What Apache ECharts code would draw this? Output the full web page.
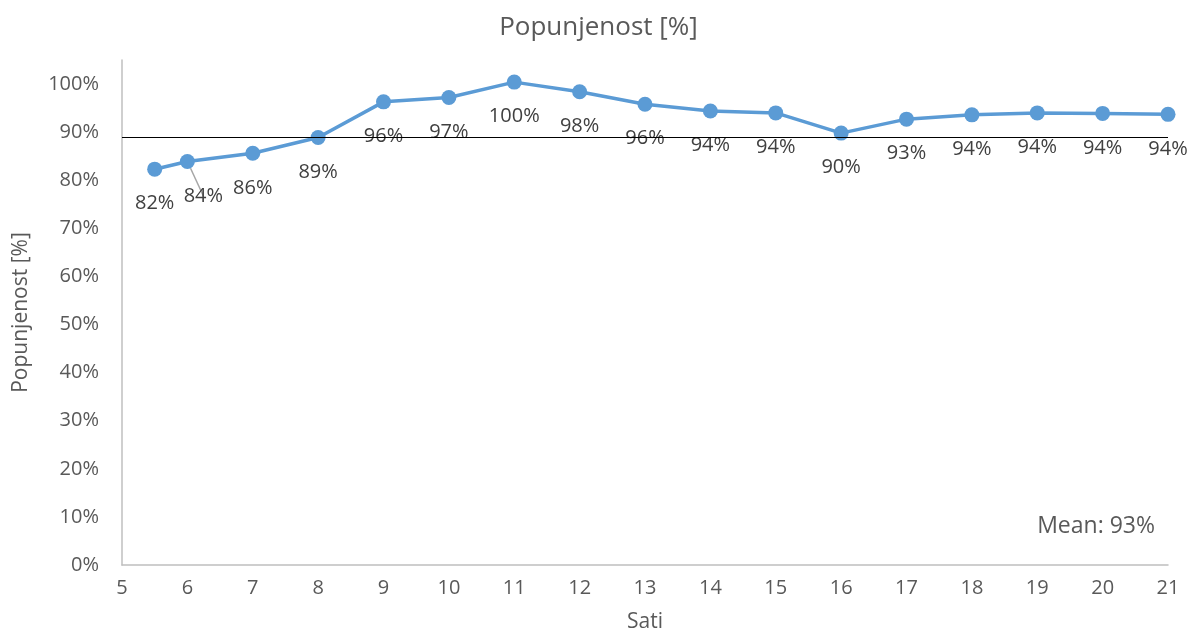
<!DOCTYPE html>
<html lang="hr">
<head>
<meta charset="UTF-8">
<title>Popunjenost</title>
<script src="https://cdn.jsdelivr.net/npm/echarts@6/dist/echarts.min.js"></script>
<style>
  html, body { margin: 0; padding: 0; background: #fff; }
  #main { width: 1197px; height: 635px; }
</style>
</head>
<body>
<div id="main"></div>
<script>
// sati (x) i popunjenost (y)
const hours = [5.5, 6, 7, 8, 9, 10, 11, 12, 13, 14, 15, 16, 17, 18, 19, 20, 21];
const occupancy = [0.823, 0.839, 0.856, 0.889, 0.963, 0.972, 1.004, 0.984, 0.958, 0.944, 0.940, 0.898, 0.927, 0.936, 0.940, 0.939, 0.937];
const meanLine = 0.885;
const meanText = 'Mean: 93%';

const font = '"Open Sans", "Noto Sans", sans-serif';

const chart = echarts.init(document.getElementById('main'));

const data = hours.map((h, i) => {
  const d = { value: [h, occupancy[i]] };
  if (i === 1) {
    d.label = { offset: [16, 0] };
    d.labelLine = { show: true, lineStyle: { color: '#a6a6a6', width: 1.5 } };
  }
  return d;
});

chart.setOption({
  animation: false,
  title: {
    text: 'Popunjenost [%]',
    left: 'center',
    top: 10,
    textStyle: { fontFamily: font, fontSize: 26, fontWeight: 'normal', color: '#595959' }
  },
  grid: { left: 122, right: 29, top: 60, bottom: 70, containLabel: false, outerBoundsMode: 'none' },
  xAxis: {
    type: 'value',
    min: 5,
    max: 21,
    interval: 1,
    name: 'Sati',
    nameLocation: 'middle',
    nameGap: 47,
    nameTextStyle: { fontFamily: font, fontSize: 21, color: '#595959' },
    axisLine: { show: true, lineStyle: { color: '#bfbfbf', width: 1.5 } },
    axisTick: { show: false },
    splitLine: { show: false },
    axisLabel: { fontFamily: font, fontSize: 20, color: '#595959', margin: 13 }
  },
  yAxis: {
    type: 'value',
    min: 0,
    max: 1.05,
    interval: 0.1,
    name: 'Popunjenost [%]',
    nameLocation: 'middle',
    nameGap: 90,
    nameTextStyle: { fontFamily: font, fontSize: 21, color: '#595959' },
    axisLine: { show: true, lineStyle: { color: '#bfbfbf', width: 1.5 } },
    axisTick: { show: false },
    splitLine: { show: false },
    axisLabel: {
      fontFamily: font, fontSize: 20, color: '#595959', margin: 23,
      formatter: v => (Math.abs(v * 10 - Math.round(v * 10)) < 1e-6 ? Math.round(v * 100) + '%' : '')
    }
  },
  graphic: [{
    type: 'text',
    right: 42,
    top: 515,
    style: { text: meanText, fontFamily: font, fontSize: 23, fill: '#595959' }
  }],
  series: [{
    type: 'line',
    data: data,
    symbol: 'circle',
    symbolSize: 15,
    itemStyle: { color: '#5b9bd5' },
    lineStyle: { color: '#5b9bd5', width: 3.5 },
    label: {
      show: true,
      position: 'bottom',
      distance: 17,
      fontFamily: font,
      fontSize: 20,
      color: '#404040',
      formatter: p => Math.round(p.value[1] * 100) + '%'
    },
    markLine: {
      silent: true,
      symbol: 'none',
      label: { show: false },
      lineStyle: { color: '#000', width: 1.2, type: 'solid' },
      data: [{ yAxis: meanLine }]
    }
  }]
});
</script>
</body>
</html>
